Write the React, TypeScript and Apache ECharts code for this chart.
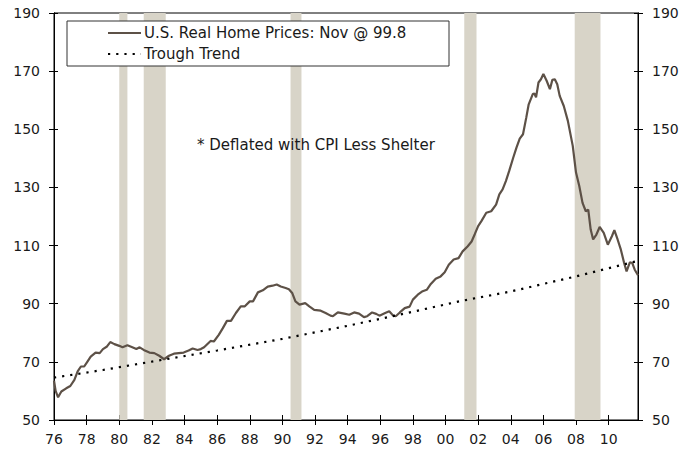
import React, { useEffect, useRef } from "react";
import * as echarts from "echarts";

// U.S. real home price index (deflated with CPI less shelter)
const priceYears = [
  1976.0, 1976.1, 1976.25, 1976.45, 1976.75, 1977.0, 1977.25, 1977.45, 1977.65, 1977.85,
  1978.05, 1978.25, 1978.55, 1978.8, 1979.0, 1979.25, 1979.45, 1979.7, 1980.0, 1980.2,
  1980.5, 1980.8, 1981.05, 1981.25, 1981.5, 1981.85, 1982.15, 1982.45, 1982.75, 1983.05,
  1983.35, 1983.65, 1983.95, 1984.25, 1984.5, 1984.8, 1985.0, 1985.2, 1985.6, 1985.8,
  1986.1, 1986.35, 1986.6, 1986.85, 1987.15, 1987.45, 1987.7, 1988.0, 1988.2, 1988.5,
  1988.8, 1989.1, 1989.4, 1989.65, 1989.9, 1990.2, 1990.4, 1990.6, 1990.8, 1991.05,
  1991.4, 1991.65, 1991.95, 1992.35, 1992.65, 1992.95, 1993.1, 1993.4, 1993.8, 1994.1,
  1994.4, 1994.7, 1995.0, 1995.2, 1995.5, 1995.75, 1995.95, 1996.3, 1996.55, 1996.8,
  1996.95, 1997.2, 1997.5, 1997.8, 1998.0, 1998.3, 1998.6, 1998.85, 1999.1, 1999.4,
  1999.7, 1999.95, 2000.2, 2000.5, 2000.8, 2001.05, 2001.35, 2001.6, 2001.8, 2002.0,
  2002.2, 2002.5, 2002.8, 2003.1, 2003.3, 2003.5, 2003.7, 2003.9, 2004.15, 2004.35,
  2004.55, 2004.75, 2004.95, 2005.1, 2005.35, 2005.45, 2005.55, 2005.7, 2005.85, 2006.0,
  2006.2, 2006.4, 2006.55, 2006.7, 2006.85, 2007.0, 2007.25, 2007.5, 2007.8, 2008.0,
  2008.2, 2008.4, 2008.6, 2008.75, 2008.9, 2009.05, 2009.25, 2009.45, 2009.7, 2009.95,
  2010.2, 2010.35, 2010.55, 2010.75, 2010.95, 2011.1, 2011.3, 2011.45, 2011.6, 2011.8,
];
const priceValues = [
  63.5, 60.0, 57.8, 59.8, 60.9, 61.7, 63.8, 66.7, 68.4, 68.4,
  70.1, 71.8, 73.2, 73.0, 74.4, 75.3, 76.8, 76.1, 75.5, 75.0,
  75.7, 75.0, 74.4, 75.0, 74.1, 73.2, 73.0, 72.1, 70.9, 72.1,
  72.8, 73.0, 73.2, 73.9, 74.6, 74.1, 74.4, 75.0, 77.2, 77.0,
  79.3, 81.6, 84.1, 84.1, 86.8, 89.1, 89.1, 90.8, 90.8, 93.9,
  94.6, 95.9, 96.2, 96.6, 95.9, 95.4, 95.0, 93.7, 90.8, 89.7,
  90.2, 89.1, 87.9, 87.6, 86.8, 85.9, 85.7, 87.0, 86.6, 86.2,
  87.0, 86.6, 85.4, 85.7, 87.0, 86.5, 85.9, 86.8, 87.4, 85.9,
  85.7, 87.0, 88.5, 89.0, 91.4, 93.1, 94.3, 94.8, 96.8, 98.6,
  99.4, 100.8, 103.4, 105.2, 105.7, 108.0, 109.7, 111.4, 114.0, 116.7,
  118.4, 121.3, 121.8, 124.1, 127.6, 129.3, 132.2, 135.6, 140.2, 143.7,
  146.8, 148.3, 154.0, 158.6, 162.1, 162.3, 161.0, 166.1, 167.2, 169.0,
  166.7, 163.8, 167.0, 167.2, 165.5, 161.5, 158.0, 152.9, 144.3, 135.1,
  130.5, 124.7, 121.8, 122.4, 115.5, 112.1, 113.8, 116.4, 114.4, 110.3,
  113.2, 115.3, 112.1, 108.6, 104.0, 101.1, 104.2, 104.0, 101.7, 99.8,
];

// Trough trend
const trendYears = [1976.0, 1979.0, 1982.75, 1986.0, 1990.0, 1994.0, 1997.0, 2001.0, 2004.0, 2008.0, 2011.7];
const trendValues = [64.6, 67.2, 70.8, 73.9, 77.9, 82.4, 86.0, 91.0, 94.2, 99.4, 104.6];

// Recessions (shaded)
const recessionStart = [1980.0, 1981.5, 1990.5, 2001.15, 2007.92];
const recessionEnd = [1980.5, 1982.85, 1991.17, 2001.9, 2009.5];

const legendNames = ["U.S. Real Home Prices: Nov @ 99.8", "Trough Trend"];
const noteText = "* Deflated with CPI Less Shelter";

const FONT = "DejaVu Sans";
const PRICE_COLOR = "#5d5147";
const SHADE = "#d8d4c8";

export default function App() {
  const ref = useRef<HTMLDivElement>(null);
  useEffect(() => {
    document.body.style.margin = "0";
    if (!ref.current) return;
    const chart = echarts.init(ref.current, undefined, { renderer: "svg" });
    const yAxisBase = {
      type: "value" as const,
      min: 50,
      max: 190,
      interval: 20,
      splitLine: { show: false },
      axisLine: { show: true, lineStyle: { color: "#000", width: 1 } },
    };
    const xAxisBase = {
      type: "value" as const,
      min: 1976,
      max: 2011.8,
      interval: 2,
      splitLine: { show: false },
      axisLine: { show: true, lineStyle: { color: "#000", width: 1 } },
    };
    const labelStyle = { fontFamily: FONT, fontSize: 14, color: "#1a1a1a" };
    chart.setOption({
      animation: false,
      grid: { left: 54, right: 55, top: 13, bottom: 31, show: true, borderColor: "#000", borderWidth: 1, backgroundColor: "transparent" },
      xAxis: [
        {
          ...xAxisBase,
          position: "bottom",
          axisTick: { show: true, inside: false, length: 5, lineStyle: { color: "#000" } },
          axisLabel: {
            ...labelStyle,
            margin: 12,
            showMaxLabel: false,
            formatter: (v: number) => String(Math.round(v) % 100).padStart(2, "0"),
          },
        },
        {
          ...xAxisBase,
          position: "bottom",
          axisTick: { show: true, inside: true, length: 5, lineStyle: { color: "#000" } },
          axisLabel: { show: false },
        },
      ],
      yAxis: [
        {
          ...yAxisBase,
          position: "left",
          axisTick: { show: true, inside: false, length: 5, lineStyle: { color: "#000" } },
          axisLabel: { ...labelStyle, margin: 14 },
        },
        {
          ...yAxisBase,
          position: "right",
          axisTick: { show: true, inside: false, length: 5, lineStyle: { color: "#000" } },
          axisLabel: { ...labelStyle, margin: 14 },
        },
        {
          ...yAxisBase,
          position: "left",
          axisTick: { show: true, inside: true, length: 4, lineStyle: { color: "#000" } },
          axisLabel: { show: false },
        },
        {
          ...yAxisBase,
          position: "right",
          axisTick: { show: true, inside: true, length: 4, lineStyle: { color: "#000" } },
          axisLabel: { show: false },
        },
      ],
      series: [
        {
          name: legendNames[0],
          type: "line",
          xAxisIndex: 0,
          yAxisIndex: 0,
          showSymbol: false,
          symbol: "none",
          z: 3,
          lineStyle: { color: PRICE_COLOR, width: 2.2 },
          data: priceYears.map((x, i) => [x, priceValues[i]]),
          markArea: {
            silent: true,
            itemStyle: { color: SHADE },
            data: recessionStart.map((s, i) => [{ xAxis: s }, { xAxis: recessionEnd[i] }]),
          },
        },
        {
          name: legendNames[1],
          type: "line",
          xAxisIndex: 0,
          yAxisIndex: 0,
          showSymbol: false,
          symbol: "none",
          z: 4,
          lineStyle: { color: "#000", width: 2.2, type: [2.2, 6] },
          data: trendYears.map((x, i) => [x, trendValues[i]]),
        },
      ],
      graphic: [
        {
          type: "rect",
          z: 10,
          shape: { x: 67, y: 21, width: 382, height: 45 },
          style: { fill: "#fff", stroke: "#333", lineWidth: 1 },
        },
        {
          type: "line",
          z: 11,
          shape: { x1: 108, y1: 33, x2: 141, y2: 33 },
          style: { stroke: PRICE_COLOR, lineWidth: 2.2 },
        },
        {
          type: "line",
          z: 11,
          shape: { x1: 108, y1: 54, x2: 141, y2: 54 },
          style: { stroke: "#000", lineWidth: 2.2, lineDash: [2.2, 6] },
        },
        {
          type: "text",
          z: 11,
          x: 144,
          y: 33,
          style: { text: legendNames[0], fontFamily: FONT, fontSize: 15, fill: "#1a1a1a", verticalAlign: "middle" },
        },
        {
          type: "text",
          z: 11,
          x: 144,
          y: 54,
          style: { text: legendNames[1], fontFamily: FONT, fontSize: 15, fill: "#1a1a1a", verticalAlign: "middle" },
        },
        {
          type: "text",
          z: 11,
          x: 197,
          y: 145,
          style: { text: noteText, fontFamily: FONT, fontSize: 15, fill: "#1a1a1a", verticalAlign: "middle" },
        },
      ],
    });
    return () => chart.dispose();
  }, []);
  return (
    <div
      ref={ref}
      style={{ width: 693, height: 451, position: "absolute", left: 0, top: 0, background: "#fff" }}
    />
  );
}
